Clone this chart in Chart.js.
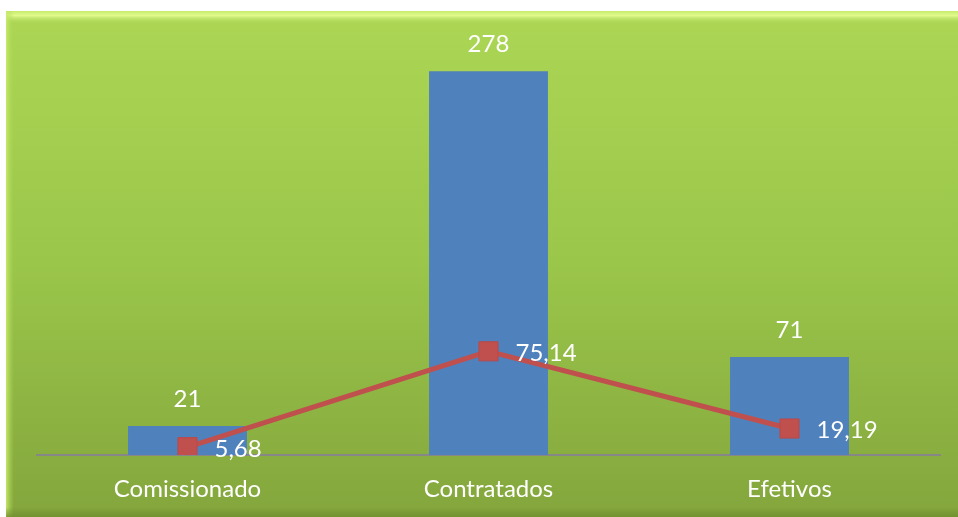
<!DOCTYPE html>
<html>
<head>
<meta charset="utf-8">
<script src="https://cdn.jsdelivr.net/npm/chart.js@4/dist/chart.umd.min.js"></script>
<style>
  html, body { margin: 0; padding: 0; background: #ffffff; }
  #wrap { position: relative; width: 958px; height: 517px; }
</style>
</head>
<body>
<div id="wrap"><canvas id="c" width="958" height="517"></canvas></div>
<script>
const categories = ['Comissionado', 'Contratados', 'Efetivos'];
const countValues = [21, 278, 71];
const percentValues = [5.68, 75.14, 19.19];

const FONT = 'Lato, "Open Sans", sans-serif';

const bgPlugin = {
  id: 'bg',
  beforeDraw(chart) {
    const ctx = chart.ctx;
    const x0 = 6, y0 = 11, w = chart.width - x0, h = chart.height - y0;
    ctx.save();
    const g = ctx.createLinearGradient(0, y0, 0, chart.height);
    g.addColorStop(0, '#acd654');
    g.addColorStop(0.5, '#9ac64a');
    g.addColorStop(1, '#84a63d');
    ctx.fillStyle = g;
    ctx.fillRect(x0, y0, w, h);
    // top bevel highlight
    const gb = ctx.createLinearGradient(0, y0, 0, y0 + 13);
    gb.addColorStop(0, '#c8ec6c');
    gb.addColorStop(0.35, '#e0fa8c');
    gb.addColorStop(1, 'rgba(172,214,84,0)');
    ctx.fillStyle = gb;
    ctx.fillRect(x0, y0, w, 13);
    // left bevel
    const gl = ctx.createLinearGradient(x0, 0, x0 + 8, 0);
    gl.addColorStop(0, 'rgba(200,236,108,0.9)');
    gl.addColorStop(1, 'rgba(172,214,84,0)');
    ctx.fillStyle = gl;
    ctx.fillRect(x0, y0, 8, h);
    // bottom darker band
    const gd = ctx.createLinearGradient(0, chart.height - 10, 0, chart.height);
    gd.addColorStop(0, 'rgba(110,140,45,0)');
    gd.addColorStop(1, 'rgba(110,140,45,0.8)');
    ctx.fillStyle = gd;
    ctx.fillRect(x0, chart.height - 10, w, 10);
    ctx.restore();
  }
};

const labelPlugin = {
  id: 'labels',
  afterDatasetsDraw(chart) {
    const ctx = chart.ctx;
    ctx.save();
    ctx.fillStyle = '#ffffff';
    ctx.font = '24px ' + FONT;
    // bar labels
    const barMeta = chart.getDatasetMeta(0);
    ctx.textAlign = 'center';
    ctx.textBaseline = 'middle';
    barMeta.data.forEach((el, i) => {
      ctx.fillText(String(countValues[i]), el.x, el.y - 27);
    });
    // line labels
    const lineMeta = chart.getDatasetMeta(1);
    ctx.textAlign = 'left';
    lineMeta.data.forEach((el, i) => {
      ctx.fillText(percentValues[i].toFixed(2).replace('.', ','), el.x + 27, el.y + 2);
    });
    ctx.restore();
  }
};

new Chart(document.getElementById('c'), {
  type: 'bar',
  data: {
    labels: categories,
    datasets: [
      {
        type: 'bar',
        label: 'Quantidade',
        data: countValues,
        backgroundColor: '#4f81bd',
        borderWidth: 0,
        categoryPercentage: 1,
        barPercentage: 0.395,
        order: 2
      },
      {
        type: 'line',
        label: 'Percentual',
        data: percentValues,
        borderColor: '#c0504d',
        borderWidth: 5,
        backgroundColor: '#c0504d',
        pointStyle: 'rect',
        pointRadius: 13.5,
        pointBackgroundColor: '#c0504d',
        pointBorderColor: '#b9494a',
        pointBorderWidth: 1,
        tension: 0,
        order: 1
      }
    ]
  },
  options: {
    responsive: false,
    animation: false,
    devicePixelRatio: 1,
    layout: { padding: { left: 37, right: 18, top: 41, bottom: 0 } },
    plugins: {
      legend: { display: false },
      tooltip: { enabled: false },
      title: { display: false }
    },
    scales: {
      x: {
        grid: { display: false, drawTicks: false },
        border: { display: true, color: '#878787', width: 2 },
        ticks: { color: '#ffffff', font: { family: FONT, size: 24 }, padding: 20 },
        afterFit(scale) { scale.height = 62; }
      },
      y: {
        display: false,
        min: 0,
        max: 300
      }
    }
  },
  plugins: [bgPlugin, labelPlugin]
});
</script>
</body>
</html>
